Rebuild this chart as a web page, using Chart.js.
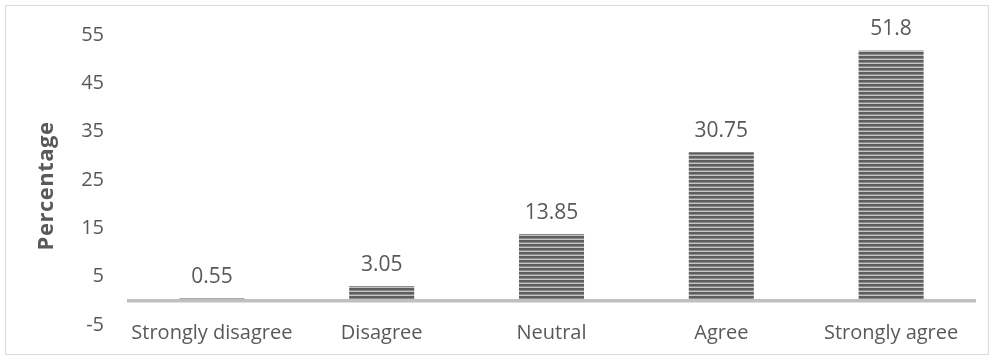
<!DOCTYPE html>
<html>
<head>
<meta charset="utf-8">
<script src="https://cdn.jsdelivr.net/npm/chart.js@4"></script>
<style>
    html, body { margin: 0; padding: 0; background: #fff; }
    #wrap { position: relative; width: 996px; height: 360px; }
    #frame { position: absolute; left: 5px; top: 5px; width: 982px; height: 348px; border: 1px solid #d9d9d9; pointer-events: none; }
</style>
</head>
<body>
<div id="wrap">
    <canvas id="chart" width="996" height="360"></canvas>
    <div id="frame"></div>
</div>
<script>
const categories = ['Strongly disagree', 'Disagree', 'Neutral', 'Agree', 'Strongly agree'];
const percentages = [0.55, 3.05, 13.85, 30.75, 51.8];
const valueLabels = ['0.55', '3.05', '13.85', '30.75', '51.8'];

const FONT = "'Open Sans', 'Liberation Sans', sans-serif";
const TEXT = '#595959';

function stripePattern() {
    const c = document.createElement('canvas');
    c.width = 4;
    c.height = 4;
    const g = c.getContext('2d');
    g.fillStyle = '#c4c4c4';
    g.fillRect(0, 0, 4, 4);
    g.fillStyle = '#5e5e5e';
    g.fillRect(0, 0, 4, 2);
    g.fillStyle = '#8a8a8a';
    g.fillRect(0, 2, 4, 1);
    return g.createPattern(c, 'repeat');
}

// zero line, category names, value labels and axis title
const decorations = {
    id: 'decorations',
    afterDatasetsDraw(chart) {
        const { ctx, chartArea, scales } = chart;
        const y0 = scales.y.getPixelForValue(0);
        ctx.save();
        ctx.strokeStyle = '#bfbfbf';
        ctx.lineWidth = 3.5;
        ctx.beginPath();
        ctx.moveTo(chartArea.left, y0);
        ctx.lineTo(chartArea.right, y0);
        ctx.stroke();

        ctx.fillStyle = TEXT;
        ctx.textAlign = 'center';
        ctx.textBaseline = 'alphabetic';

        ctx.font = '20px ' + FONT;
        categories.forEach((name, i) => {
            ctx.fillText(name, scales.x.getPixelForValue(i), 339);
        });

        ctx.font = '21px ' + FONT;
        chart.getDatasetMeta(0).data.forEach((bar, i) => {
            ctx.fillText(valueLabels[i], bar.x, bar.y - 15);
        });

        ctx.translate(53, 186);
        ctx.rotate(-Math.PI / 2);
        ctx.font = 'bold 22px ' + FONT;
        ctx.letterSpacing = '0.5px';
        ctx.fillText('Percentage', 0, 0);
        ctx.restore();
    },
};

new Chart(document.getElementById('chart'), {
    type: 'bar',
    data: {
        labels: categories,
        datasets: [{
            data: percentages,
            backgroundColor: stripePattern(),
            borderWidth: 0,
            categoryPercentage: 1,
            barPercentage: 0.383,
        }],
    },
    options: {
        responsive: false,
        animation: false,
        events: [],
        layout: { padding: { top: 34, right: 20, left: 0, bottom: 0 } },
        plugins: { legend: { display: false }, tooltip: { enabled: false } },
        scales: {
            x: {
                grid: { display: false, drawTicks: false },
                border: { display: false },
                ticks: { display: false },
                afterFit: (s) => { s.height = 35; },
            },
            y: {
                min: -5,
                max: 55,
                grid: { display: false, drawTicks: false },
                border: { display: false },
                ticks: { stepSize: 10, color: TEXT, font: { family: FONT, size: 20 }, padding: 23 },
                afterFit: (s) => { s.width = 127; },
            },
        },
    },
    plugins: [decorations],
});
</script>
</body>
</html>
